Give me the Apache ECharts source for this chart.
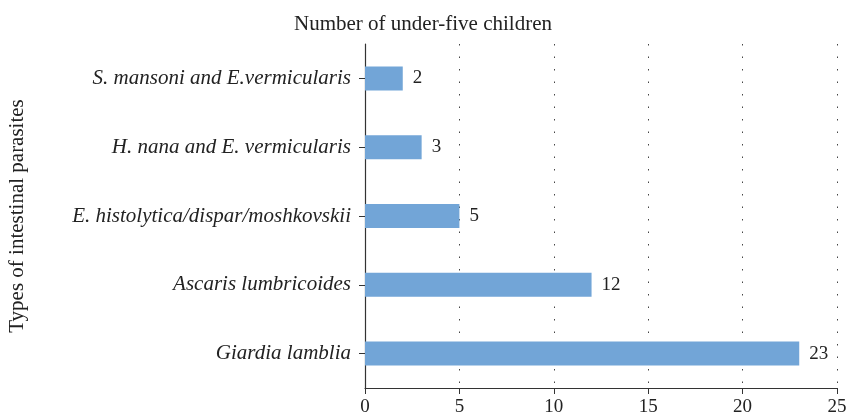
<!DOCTYPE html>
<html><head><meta charset="utf-8">
<script src="https://cdn.jsdelivr.net/npm/echarts@6/dist/echarts.min.js"></script>
<style>html,body{margin:0;padding:0;background:#fff}#c{width:849px;height:419px}</style>
</head><body><div id="c"></div>
<script>
const categories = ["S. mansoni and E.vermicularis", "H. nana and E. vermicularis", "E. histolytica/dispar/moshkovskii", "Ascaris lumbricoides", "Giardia lamblia"];
const values = [2, 3, 5, 12, 23];
const xTicks = [0, 5, 10, 15, 20, 25];
const titleText = "Number of under-five children";
const yName = "Types of intestinal parasites";
const font = "'Liberation Serif', 'DejaVu Serif', serif";
const chart = echarts.init(document.getElementById('c'));
chart.setOption({
  animation: false,
  title: {text: titleText, left: 418, top: 9, textAlign: 'center',
    textStyle: {fontFamily: font, fontSize: 21, fontWeight: 'normal', color: '#222'}},
  grid: {left: 365, right: 12, top: 44, bottom: 31, containLabel: false, outerBoundsMode: 'none'},
  xAxis: {type: 'value', min: xTicks[0], max: xTicks[xTicks.length-1], interval: 5,
    axisLine: {show: true, lineStyle: {color: '#333', width: 1.2}},
    axisTick: {show: true, length: 6, lineStyle: {color: '#333'}},
    axisLabel: {fontFamily: font, fontSize: 19, color: '#222', margin: 10},
    splitLine: {show: true, lineStyle: {type: [1.5, 11], color: '#444', width: 1}}},
  yAxis: {type: 'category', data: categories, inverse: true,
    name: yName, nameLocation: 'middle', nameGap: 337, nameRotate: 90,
    nameTextStyle: {fontFamily: font, fontSize: 21, color: '#222'},
    axisLine: {show: true, lineStyle: {color: '#333', width: 1.2}},
    axisTick: {show: true, alignWithLabel: true, length: 6, lineStyle: {color: '#333'}},
    axisLabel: {fontFamily: font, fontSize: 21, fontStyle: 'italic', color: '#222', margin: 14}},
  series: [{type: 'bar', data: values, barWidth: 24,
    itemStyle: {color: '#72a5d7'},
    label: {show: true, position: 'right', distance: 10, fontFamily: font, fontSize: 19, color: '#222'}}]
});
</script></body></html>
